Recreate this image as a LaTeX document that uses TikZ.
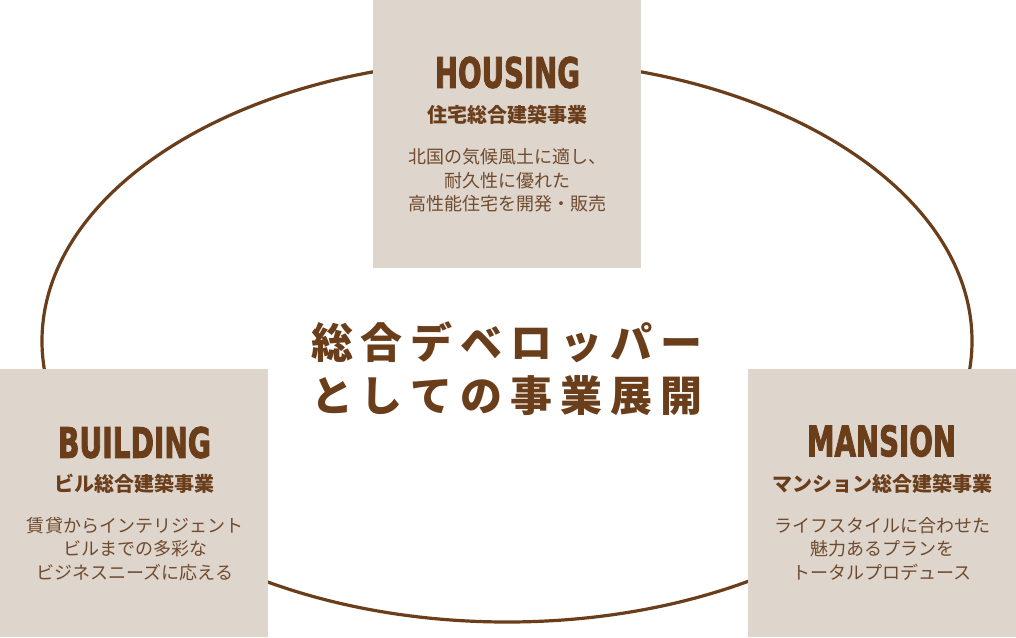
\documentclass[tikz,border=0pt]{standalone}
\usepackage{fontspec}
\setmainfont{Noto Sans CJK JP}
\newfontfamily\jp{Noto Sans CJK JP}
\newfontfamily\headfont[FakeBold=2.6]{DejaVu Sans Condensed Bold}
\definecolor{brn}{HTML}{6B3E1B}
\definecolor{dsc}{HTML}{704A2E}
\definecolor{bxc}{HTML}{DED6CD}
\newcommand\tk{\kern8pt}
\tikzset{
  bizbox/.style={fill=bxc, draw=none, minimum width=268pt, minimum height=268pt, inner sep=0pt},
  headst/.style={inner sep=0pt, text=brn},
  subst/.style={inner sep=0pt, text=brn, font=\jp\bfseries\fontsize{20pt}{24pt}\selectfont},
  descst/.style={inner sep=0pt, text=dsc, align=center, font=\jp\fontsize{18pt}{23.5pt}\selectfont},
  titlest/.style={inner sep=0pt, text=brn, align=center, font=\jp\bfseries\fontsize{42pt}{53pt}\selectfont},
  ring/.style={draw=brn, line width=3.2pt}
}
\begin{document}
\begin{tikzpicture}[x=1pt,y=-1pt]
\useasboundingbox (0,0) rectangle (1016,637);
\fill[white] (0,0) rectangle (1016,637);
\draw[ring] (507,341) ellipse [x radius=465, y radius=281];

% boxes
\node[bizbox] (housing) at (507,134) {};
\node[bizbox] (building) at (134,503) {};
\node[bizbox] (mansion) at (882,503) {};

% HOUSING
\node[headst] (housingT) at (507.5,72.5) {\resizebox{145pt}{31pt}{\headfont HOUSING}};
\node[subst] (housingS) at (507.5,114.5) {住宅総合建築事業};
\node[descst] (housingD) at (507,180.5) {北国の気候風土に適し、\\耐久性に優れた\\高性能住宅を開発・販売};

% BUILDING
\node[headst] (buildingT) at (134.5,442.5) {\resizebox{153pt}{31pt}{\headfont BUILDING}};
\node[subst] (buildingS) at (134.5,483.5) {ビル総合建築事業};
\node[descst] (buildingD) at (135,549) {賃貸からインテリジェント\\ビルまでの多彩な\\ビジネスニーズに応える};

% MANSION
\node[headst] (mansionT) at (881.5,441) {\resizebox{149pt}{31pt}{\headfont MANSION}};
\node[subst] (mansionS) at (882,483.5) {マンション総合建築事業};
\node[descst] (mansionD) at (882,548.5) {ライフスタイルに合わせた\\魅力あるプランを\\トータルプロデュース};

% centre title
\node[titlest] (title) at (507,368.5) {総\tk{}合\tk{}デ\tk{}ベ\tk{}ロ\tk{}ッ\tk{}パ\tk{}ー\\と\tk{}し\tk{}て\tk{}の\tk{}事\tk{}業\tk{}展\tk{}開};
\end{tikzpicture}
\end{document}
